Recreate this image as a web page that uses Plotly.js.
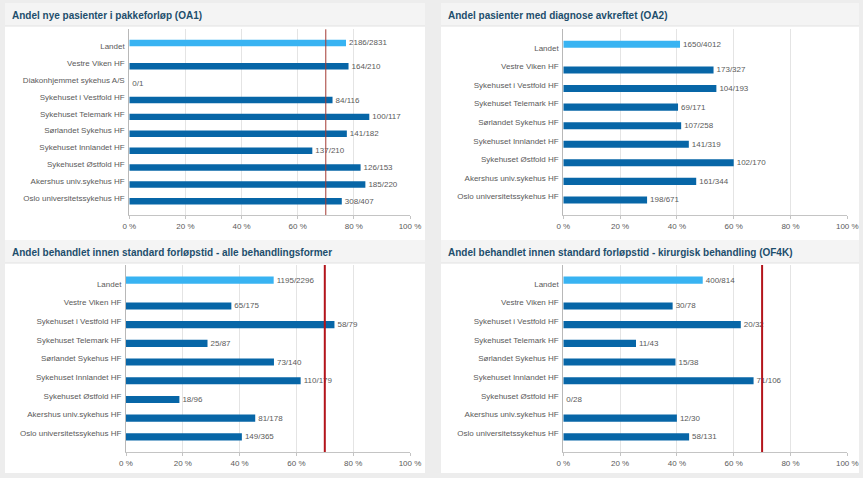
<!DOCTYPE html>
<html>
<head>
<meta charset="utf-8">
<script src="https://cdn.plot.ly/plotly-3.0.1.min.js"></script>
<style>
html,body{margin:0;padding:0;background:#ededed;}
#chart{width:863px;height:478px;}
</style>
</head>
<body>
<div id="chart"></div>
<script>
// ---------- DATA ----------
const titleOA1 = "Andel nye pasienter i pakkeforløp (OA1)";
const catsOA1 = ["Landet", "Vestre Viken HF", "Diakonhjemmet sykehus A/S", "Sykehuset i Vestfold HF",
  "Sykehuset Telemark HF", "Sørlandet Sykehus HF", "Sykehuset Innlandet HF", "Sykehuset Østfold HF",
  "Akershus univ.sykehus HF", "Oslo universitetssykehus HF"];
const pctOA1 = [77.2, 78.1, 0, 72.4, 85.5, 77.5, 65.2, 82.4, 84.1, 75.7];
const lblOA1 = ["2186/2831", "164/210", "0/1", "84/116", "100/117", "141/182", "137/210", "126/153", "185/220", "308/407"];
const targetOA1 = 70;

const titleOA2 = "Andel pasienter med diagnose avkreftet (OA2)";
const catsOA2 = ["Landet", "Vestre Viken HF", "Sykehuset i Vestfold HF", "Sykehuset Telemark HF",
  "Sørlandet Sykehus HF", "Sykehuset Innlandet HF", "Sykehuset Østfold HF",
  "Akershus univ.sykehus HF", "Oslo universitetssykehus HF"];
const pctOA2 = [41.1, 52.9, 53.9, 40.4, 41.5, 44.2, 60.0, 46.8, 29.5];
const lblOA2 = ["1650/4012", "173/327", "104/193", "69/171", "107/258", "141/319", "102/170", "161/344", "198/671"];
const targetOA2 = null;

const titleOF4 = "Andel behandlet innen standard forløpstid - alle behandlingsformer";
const catsOF4 = catsOA2;
const pctOF4 = [52.0, 37.1, 73.4, 28.7, 52.1, 61.5, 18.8, 45.5, 40.8];
const lblOF4 = ["1195/2296", "65/175", "58/79", "25/87", "73/140", "110/179", "18/96", "81/178", "149/365"];
const targetOF4 = 70;

const titleOF4K = "Andel behandlet innen standard forløpstid - kirurgisk behandling (OF4K)";
const catsOF4K = catsOA2;
const pctOF4K = [49.1, 38.5, 62.5, 25.6, 39.5, 67.0, 0, 40.0, 44.3];
const lblOF4K = ["400/814", "30/78", "20/32", "11/43", "15/38", "71/106", "0/28", "12/30", "58/131"];
const targetOF4K = 70;

const xTicks = [0, 20, 40, 60, 80, 100];

// ---------- LAYOUT HELPERS ----------
const W = 863, H = 478;
const px = v => v / W;
const py = v => 1 - v / H;

const colLand = "#38b3f2";
const colHF = "#0766a7";
const txtCol = "#5a5a5a";
const FONT = "Liberation Sans, Arial, sans-serif";
const BW = 0.38; // bar thickness in category units

const panels = [
  {title: titleOA1, cats: catsOA1, pct: pctOA1, lbl: lblOA1, target: targetOA1,
   x: [129.3, 410], y: [29.3, 215], card: [5, 425, 3, 240], tline: {w: 1, c: "#a33a33"}},
  {title: titleOA2, cats: catsOA2, pct: pctOA2, lbl: lblOA2, target: targetOA2,
   x: [563.3, 847.3], y: [29.3, 215], card: [441, 859, 3, 240], tline: null},
  {title: titleOF4, cats: catsOF4, pct: pctOF4, lbl: lblOF4, target: targetOF4,
   x: [126, 410], y: [265, 452], card: [5, 425, 240, 473], tline: {w: 2, c: "#b3141b"}},
  {title: titleOF4K, cats: catsOF4K, pct: pctOF4K, lbl: lblOF4K, target: targetOF4K,
   x: [563.3, 847.3], y: [265, 452], card: [441, 859, 240, 473], tline: {w: 2, c: "#b3141b"}}
];

const traces = [];
const layout = {
  width: W, height: H,
  margin: {l: 0, r: 0, t: 0, b: 0},
  paper_bgcolor: "#ededed",
  plot_bgcolor: "rgba(0,0,0,0)",
  barmode: "overlay",
  showlegend: false,
  font: {family: FONT, size: 8, color: txtCol},
  shapes: [],
  annotations: []
};

panels.forEach((p, i) => {
  const n = i + 1;
  const xa = "x" + n, ya = "y" + n;
  const xk = "xaxis" + n, yk = "yaxis" + n;
  const textCommon = {
    textposition: "outside", cliponaxis: false, constraintext: "none",
    textfont: {family: FONT, size: 8, color: txtCol},
    hoverinfo: "skip", xaxis: xa, yaxis: ya, orientation: "h", type: "bar",
    width: BW
  };
  // Landet bar sits in the upper slot of its row, HF bars in the lower slot
  traces.push(Object.assign({
    x: p.pct.slice(0, 1), y: p.cats.slice(0, 1), text: p.lbl.slice(0, 1),
    marker: {color: colLand, line: {width: 0}}, offset: -BW
  }, textCommon));
  traces.push(Object.assign({
    x: p.pct.slice(1), y: p.cats.slice(1), text: p.lbl.slice(1),
    marker: {color: colHF, line: {width: 0}}, offset: 0
  }, textCommon));

  layout[xk] = {
    domain: [px(p.x[0]), px(p.x[1])], anchor: ya,
    range: [0, 100], tickvals: xTicks, ticktext: xTicks.map(v => v + " %"),
    showgrid: true, gridcolor: "#e4e4e4", gridwidth: 1, zeroline: false,
    showline: true, linecolor: "#c4c4c4", linewidth: 1,
    ticks: "outside", ticklen: 3, tickcolor: "#c4c4c4",
    tickfont: {family: FONT, size: 8, color: txtCol}, fixedrange: true
  };
  layout[yk] = {
    domain: [py(p.y[1]), py(p.y[0])], anchor: xa,
    type: "category", categoryorder: "array", categoryarray: p.cats,
    range: [p.cats.length, -1],
    showgrid: false, zeroline: false,
    showline: true, linecolor: "#b8b8b8", linewidth: 1,
    ticks: "", ticklabelstandoff: 2,
    tickfont: {family: FONT, size: 8, color: txtCol}, fixedrange: true
  };

  // card background, title band
  const c = p.card;
  layout.shapes.push({type: "rect", xref: "paper", yref: "paper", layer: "below",
    x0: px(c[0]), x1: px(c[1]), y0: py(c[3]), y1: py(c[2] + 23),
    fillcolor: "#ffffff", line: {width: 0}});
  layout.shapes.push({type: "rect", xref: "paper", yref: "paper", layer: "below",
    x0: px(c[0]), x1: px(c[1]), y0: py(c[2] + 23), y1: py(c[2]),
    fillcolor: "#f4f4f4", line: {width: 0}});
  layout.shapes.push({type: "line", xref: "paper", yref: "paper", layer: "below",
    x0: px(c[0]), x1: px(c[1]), y0: py(c[2] + 23), y1: py(c[2] + 23),
    line: {color: "#e2e2e2", width: 1}});

  layout.annotations.push({
    xref: "paper", yref: "paper", x: px(c[0] + 5), y: py(c[2] + 12),
    xanchor: "left", yanchor: "middle", showarrow: false,
    text: "<b>" + p.title + "</b>",
    font: {family: FONT, size: 10, color: "#1d4e6c"}
  });

  if (p.target !== null && p.tline) {
    layout.shapes.push({type: "line", xref: xa, yref: ya + " domain", layer: "above",
      x0: p.target, x1: p.target, y0: 0, y1: 1,
      line: {color: p.tline.c, width: p.tline.w}});
  }
});

Plotly.newPlot("chart", traces, layout, {displayModeBar: false, staticPlot: true});
</script>
</body>
</html>
